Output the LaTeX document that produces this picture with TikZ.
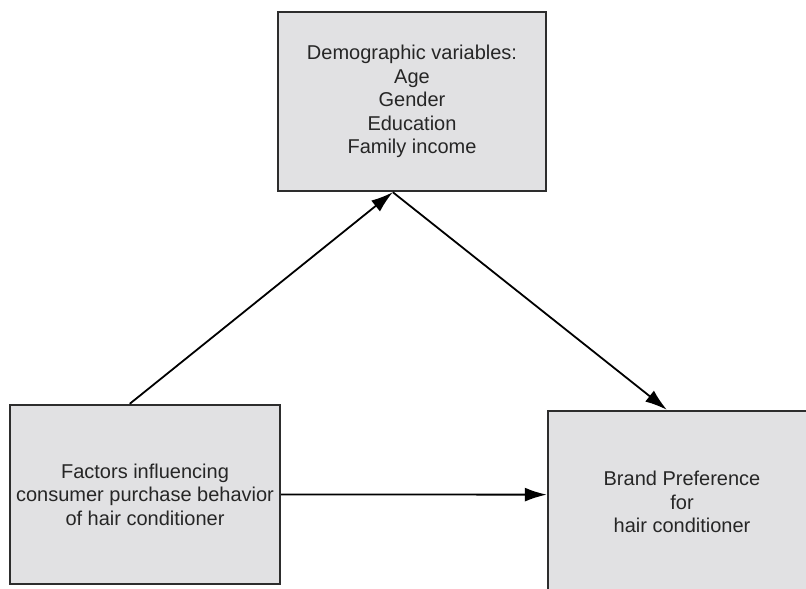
\documentclass[tikz,border=0pt]{standalone}
\usepackage{fontspec}
\setmainfont{Liberation Sans}
\usetikzlibrary{arrows.meta,calc}

\definecolor{boxgray}{RGB}{225,225,227}
\definecolor{edgegray}{RGB}{45,45,45}

\begin{document}
\begin{tikzpicture}[x=0.5pt, y=-0.5pt, >={Latex[length=11pt,width=7pt]}, line width=0.9pt,
  box/.style={draw=edgegray, line width=1.2pt, fill=boxgray, align=center, inner sep=0pt,
    text=black!85, font=\fontsize{10}{11.75}\selectfont}]

\useasboundingbox (0,0) rectangle (806,588);
\clip (0,0) rectangle (806,588);

% the three boxes
\node[box, minimum width=134pt, minimum height=89.5pt] (demo) at (412,101.5)
  {Demographic variables:\\Age\\Gender\\Education\\Family income};
\node[box, minimum width=135pt, minimum height=89.5pt] (factors) at (145,494.5)
  {Factors influencing\\consumer purchase behavior\\of hair conditioner};
\node[box, minimum width=134pt, minimum height=91pt] (brand) at (682,502)
  {Brand Preference\\for\\hair conditioner};

% arrows
\coordinate (demobot) at ($(demo.south west)!0.429!(demo.south east)$);
\draw[->] ($(factors.north west)!0.444!(factors.north east)$) -- (demobot);
\draw[->] (demobot) -- ($(brand.north west)!0.444!(brand.north east)$);
\draw[->] (factors.east) -- ($(brand.north west)!0.46!(brand.south west)$);

\end{tikzpicture}
\end{document}
